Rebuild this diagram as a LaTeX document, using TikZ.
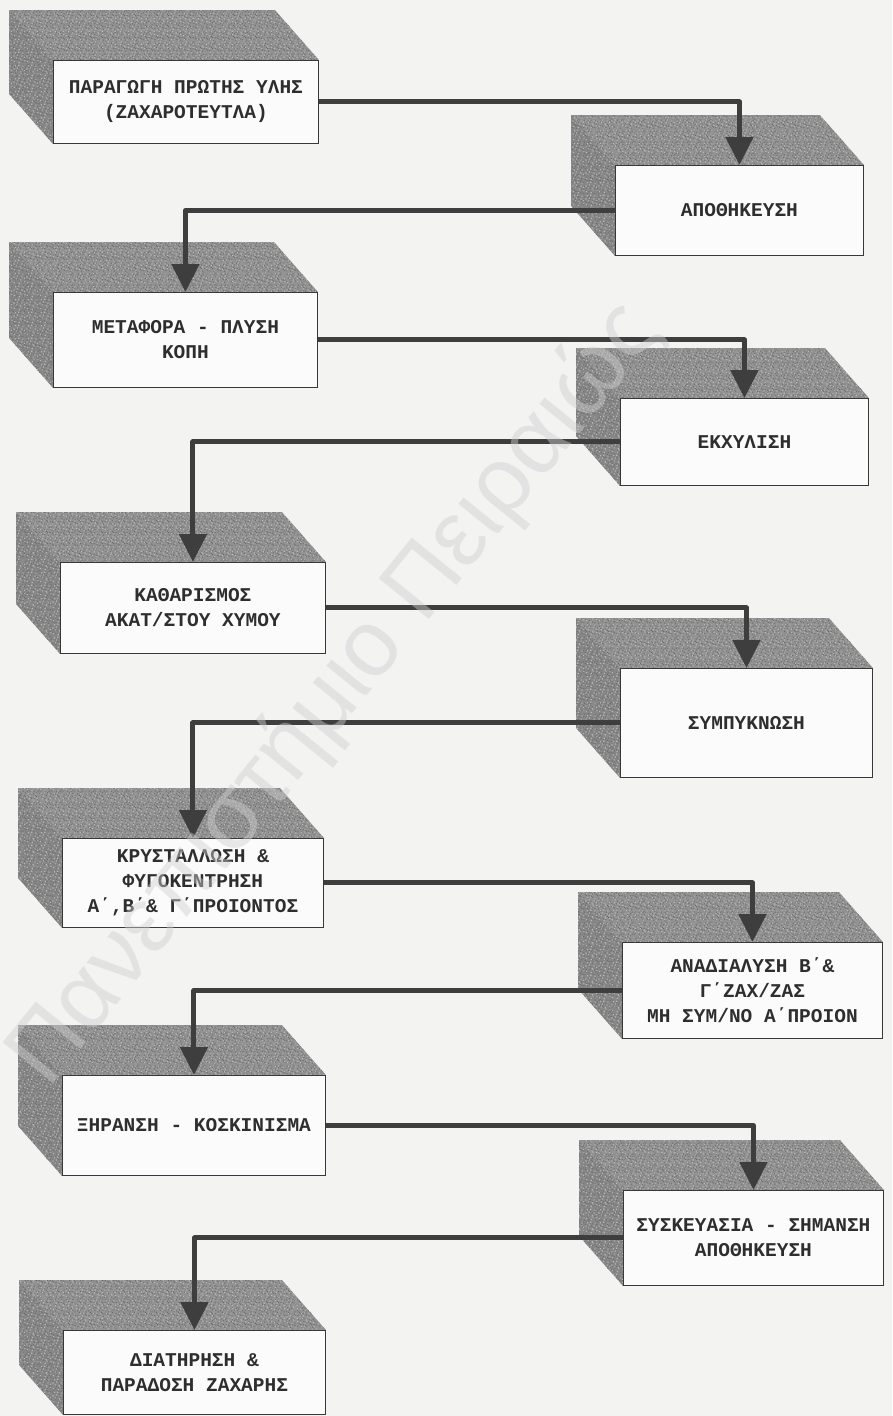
\documentclass[tikz,border=0pt]{standalone}
\usepackage{fontspec}
\newfontfamily\boxfont{Liberation Mono}
\newfontfamily\markfont{Liberation Sans}
\usetikzlibrary{calc,arrows.meta,patterns}

\definecolor{paper}{HTML}{F3F3F2}
\definecolor{frontfill}{HTML}{FBFBFB}
\definecolor{edge}{HTML}{383838}
\definecolor{topgray}{HTML}{929292}
\definecolor{sidegray}{HTML}{878787}
\definecolor{grainDark}{HTML}{6A6A6A}
\definecolor{grainLight}{HTML}{B8B8B8}
\definecolor{flowgray}{HTML}{3E3E3E}
\definecolor{inkgray}{HTML}{2E2E2E}
\definecolor{markgray}{HTML}{CFCFCF}

% grainy texture of the box tops and sides
\pgfdeclarepatternformonly{grainA}{\pgfqpoint{0pt}{0pt}}{\pgfqpoint{11pt}{11pt}}{\pgfqpoint{11pt}{11pt}}{%
  \foreach \gx/\gy in {0.5/1,3/7,6/3,8/9,9.5/5,2/4.5,4.5/0.5,7/6.5,1/9,10/1.5,5/8.5,3.5/3,8.5/2.5,6/10,0/6}{%
    \pgfpathrectangle{\pgfqpoint{\gx pt}{\gy pt}}{\pgfqpoint{1.1pt}{1.1pt}}}%
  \pgfusepath{fill}}
\pgfdeclarepatternformonly{grainB}{\pgfqpoint{0pt}{0pt}}{\pgfqpoint{13pt}{13pt}}{\pgfqpoint{13pt}{13pt}}{%
  \foreach \gx/\gy in {1/2,4/9,7/5,10/11,12/3,3/6,6/1,9/8,11.5/6.5,2/11.5,5.5/12,8/3.5,0.5/8}{%
    \pgfpathrectangle{\pgfqpoint{\gx pt}{\gy pt}}{\pgfqpoint{1.2pt}{1.2pt}}}%
  \pgfusepath{fill}}

\pgfdeclarelayer{paperlayer}
\pgfdeclarelayer{faces}
\pgfsetlayers{paperlayer,faces,main}

\tikzset{
  stagebox/.style={draw=edge, line width=0.9pt, fill=frontfill, anchor=north west,
    inner sep=0pt, align=center, text=inkgray,
    font=\boxfont\bfseries\fontsize{19.5pt}{25pt}\selectfont},
  topface/.style={fill=topgray},
  sideface/.style={fill=sidegray},
  grain/.style={pattern=grainA, pattern color=grainDark},
  grainlite/.style={pattern=grainB, pattern color=grainLight},
  flow/.style={draw=flowgray, line width=5pt, line join=round,
    -{Triangle[length=28pt,width=27pt]}},
}

% top and left faces of a box behind its front node
\newcommand\depthfaces[1]{%
  \begin{pgfonlayer}{faces}
    \foreach \look in {topface,grain,grainlite}{%
      \path[\look] (#1.north west) -- (#1.north east) -- ++(-44,-50)
        -- ($(#1.north west)+(-44,-50)$) -- cycle;}
    \foreach \look in {sideface,grain,grainlite}{%
      \path[\look] (#1.north west) -- (#1.south west) -- ++(-44,-50)
        -- ($(#1.north west)+(-44,-50)$) -- cycle;}
  \end{pgfonlayer}}

\begin{document}
\begin{tikzpicture}[x=1pt,y=-1pt]
  \begin{pgfonlayer}{paperlayer}
    \fill[paper] (0,0) rectangle (892,1416);
  \end{pgfonlayer}
  \useasboundingbox (0,0) rectangle (892,1416);

  % process stages
  \node[stagebox, minimum width=265pt, minimum height=83pt] (b1) at (53,60)
    {ΠΑΡΑΓΩΓΗ ΠΡΩΤΗΣ ΥΛΗΣ\\(ΖΑΧΑΡΟΤΕΥΤΛΑ)};
  \node[stagebox, minimum width=248pt, minimum height=90pt] (b2) at (615,165)
    {ΑΠΟΘΗΚΕΥΣΗ};
  \node[stagebox, minimum width=264pt, minimum height=95pt] (b3) at (53,292)
    {ΜΕΤΑΦΟΡΑ - ΠΛΥΣΗ\\ΚΟΠΗ};
  \node[stagebox, minimum width=248pt, minimum height=87pt] (b4) at (620,398)
    {ΕΚΧΥΛΙΣΗ};
  \node[stagebox, minimum width=265pt, minimum height=91pt] (b5) at (60,562)
    {ΚΑΘΑΡΙΣΜΟΣ\\ΑΚΑΤ/ΣΤΟΥ ΧΥΜΟΥ};
  \node[stagebox, minimum width=252pt, minimum height=109pt] (b6) at (620,668)
    {ΣΥΜΠΥΚΝΩΣΗ};
  \node[stagebox, minimum width=261pt, minimum height=89pt] (b7) at (62,838)
    {ΚΡΥΣΤΑΛΛΩΣΗ \&\\ΦΥΓΟΚΕΝΤΡΗΣΗ\\Α΄,Β΄\& Γ΄ΠΡΟΙΟΝΤΟΣ};
  \node[stagebox, minimum width=260pt, minimum height=96pt] (b8) at (622,942)
    {ΑΝΑΔΙΑΛΥΣΗ Β΄\&\\Γ΄ΖΑΧ/ΖΑΣ\\ΜΗ ΣΥΜ/ΝΟ Α΄ΠΡΟΙΟΝ};
  \node[stagebox, minimum width=263pt, minimum height=100pt] (b9) at (62,1075)
    {ΞΗΡΑΝΣΗ - ΚΟΣΚΙΝΙΣΜΑ};
  \node[stagebox, minimum width=260pt, minimum height=95pt] (b10) at (623,1190)
    {ΣΥΣΚΕΥΑΣΙΑ - ΣΗΜΑΝΣΗ\\ΑΠΟΘΗΚΕΥΣΗ};
  \node[stagebox, minimum width=262pt, minimum height=84pt] (b11) at (63,1330)
    {ΔΙΑΤΗΡΗΣΗ \&\\ΠΑΡΑΔΟΣΗ ΖΑΧΑΡΗΣ};

  \foreach \b in {b1,b2,b3,b4,b5,b6,b7,b8,b9,b10,b11}{\depthfaces{\b}}

  % flow between stages
  \draw[flow] (b1.east) -| (b2.north);
  \draw[flow] (b2.west) -| (b3.north);
  \draw[flow] (b3.east) -| (b4.north);
  \draw[flow] (b4.west) -| (b5.north);
  \draw[flow] (b5.east) -| (b6.north);
  \draw[flow] (b6.west) -| (b7.north);
  \draw[flow] (b7.east) -| (b8.north);
  \draw[flow] (b8.west) -| (b9.north);
  \draw[flow] (b9.east) -| (b10.north);
  \draw[flow] (b10.west) -| (b11.north);

  % watermark
  \node[anchor=base west, rotate=51, inner sep=0pt, text=markgray, text opacity=0.45,
    font=\markfont\fontsize{94pt}{94pt}\selectfont] (mark) at (48,1090)
    {Πανεπιστήμιο Πειραιώς};
\end{tikzpicture}
\end{document}
